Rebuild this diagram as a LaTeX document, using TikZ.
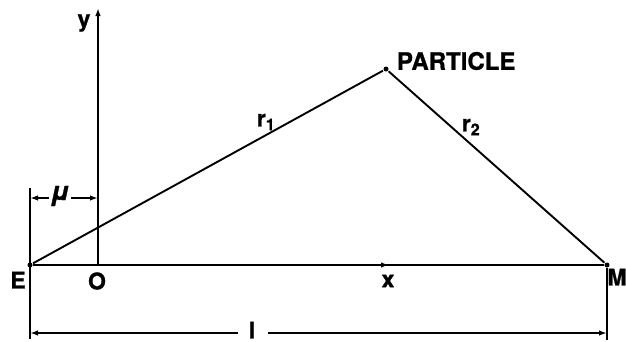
\documentclass[tikz,border=0pt]{standalone}
\usepackage{fontspec}
\setmainfont{TeX Gyre Heros}[FakeBold=1]
\usetikzlibrary{arrows.meta}
\begin{document}
\begin{tikzpicture}[x=1pt,y=-1pt,line width=1.9pt,
  lbl/.style={font=\fontsize{23}{25}\selectfont\bfseries,inner sep=0pt},
  tip/.style={-{Latex[length=8pt,width=5.5pt]}},
  dot/.style={circle,fill,inner sep=0pt,minimum size=5pt}]
\useasboundingbox (0,0) rectangle (626,341);
% main points
\node[dot] (E) at (30,265) {};
\coordinate (O) at (98,265);
\node[dot] (M) at (607,265) {};
\node[dot] (P) at (386,69) {};
\coordinate (ytop) at (98,8);
\coordinate (xarr) at (389,265);
% axes
\draw (E) -- (M);
\draw[tip] (E) -- (xarr);
\draw[tip] (O) -- (ytop);
% triangle sides
\draw (E) -- (P);
\draw (P) -- (M);
% extension lines
\coordinate (Ltop) at (30,188);
\coordinate (Lbot) at (30,339);
\coordinate (Rbot) at (607,340);
\draw (Ltop) -- (Lbot);
\draw (M) -- (Rbot);
% labels
\node[lbl] (Elbl) at (18,280) {E};
\node[lbl] (Olbl) at (97,281) {O};
\node[lbl] (Mlbl) at (617,277) {M};
\node[lbl] (xlbl) at (388,281) {x};
\node[lbl] (ylbl) at (84,23) {y};
\node[lbl,anchor=west,font=\fontsize{24}{26}\selectfont\bfseries] (Plbl) at (396,61) {PARTICLE};
\node[lbl] (r1) at (266,122) {r\textsubscript{1}};
\node[lbl] (r2) at (471,127) {r\textsubscript{2}};
% mu dimension
\node[lbl,font=\fontsize{26}{28}\selectfont\bfseries\itshape,inner sep=1pt] (mu) at (60,196) {μ};
\coordinate (muL) at (30,198);
\coordinate (muR) at (98,198);
\draw[tip] (mu.east |- muR) -- (muR);
\draw[tip] (mu.west |- muL) -- (muL);
% l dimension
\node[lbl] (l) at (252,330) {l};
\coordinate (lL) at (30,333);
\coordinate (lR) at (607,333);
\draw[tip] ([xshift=-14pt]l.center |- lL) -- (lL);
\draw[tip] ([xshift=16pt]l.center |- lR) -- (lR);
\end{tikzpicture}
\end{document}
